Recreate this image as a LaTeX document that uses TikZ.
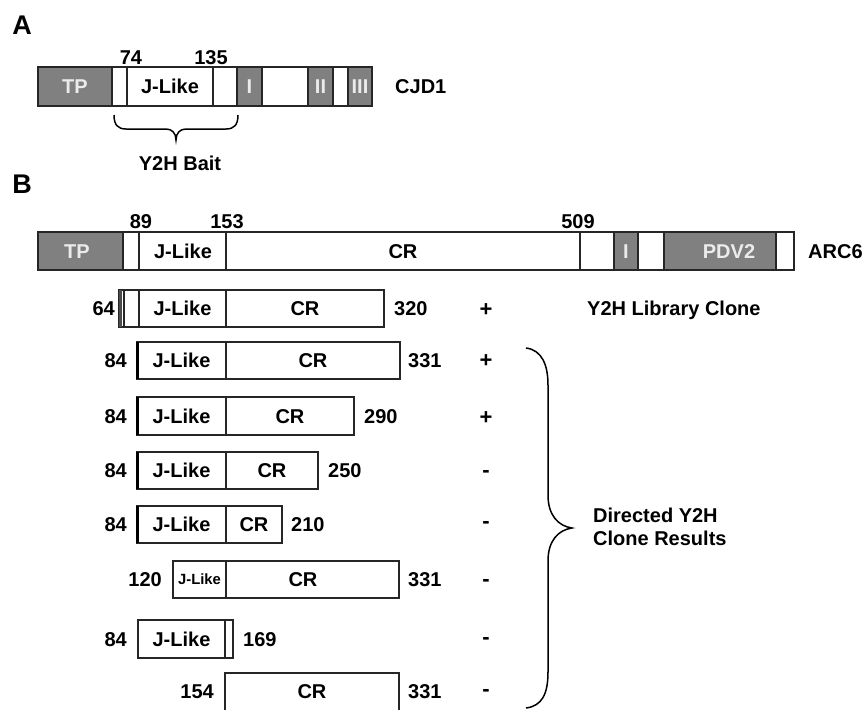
\documentclass[tikz,border=0pt]{standalone}
\usepackage{fontspec}
\setmainfont{Liberation Sans}
\begin{document}
\begin{tikzpicture}[x=1pt,y=-1pt,
  lab/.style={font=\fontsize{20}{22}\selectfont\bfseries, inner sep=0pt, text height=14.3pt, text depth=0pt},
  wlab/.style={lab, text=black!8},
  small/.style={font=\fontsize{14.8}{16}\selectfont\bfseries, inner sep=0pt, text height=10.6pt, text depth=0pt},
  big/.style={font=\fontsize{27}{29}\selectfont\bfseries, inner sep=0pt, text height=19.4pt, text depth=0pt},
  sgn/.style={font=\fontsize{22}{24}\selectfont\bfseries, inner sep=0pt},
  box/.style={draw=black!85, line width=1.1pt, fill=white},
  gbox/.style={draw=black!85, line width=1.1pt, fill=black!50},
  ln/.style={draw=black!85, line width=1.1pt},
  thick edge/.style={draw=black, line width=2.4pt},
  bracepath/.style={draw=black, line width=1.5pt}]
\useasboundingbox (0,0) rectangle (863,710);

% ---------- Panel A ----------
\node[big] (A) at (22,25) {A};
\draw[gbox] (38,67) rectangle (112,106);
\draw[box] (112,67) rectangle (127,106);
\draw[box] (127,67) rectangle (213,106);
\draw[box] (213,67) rectangle (237,106);
\draw[gbox] (237,67) rectangle (262,106);
\draw[box] (262,67) rectangle (308,106);
\draw[gbox] (308,67) rectangle (333,106);
\draw[box] (333,67) rectangle (348,106);
\draw[gbox] (348,67) rectangle (372,106);
\node[wlab] (aTP) at (75,86.5) {TP};
\node[lab] (aJ) at (170,86.5) {J-Like};
\node[wlab] (aI) at (249.5,86.5) {I};
\node[wlab] (aII) at (320.5,86.5) {II};
\node[wlab] (aIII) at (360,86.5) {III};
\node[lab] (a74) at (131,57) {74};
\node[lab] (a135) at (211,57) {135};
\node[lab, anchor=west] (cjd) at (395,86.5) {CJD1};
\draw[bracepath] (114,115) .. controls (114,125) and (118,129) .. (126,129) -- (166,129)
  .. controls (172,129) and (176,133) .. (176,140)
  .. controls (176,133) and (180,129) .. (186,129) -- (226,129)
  .. controls (234,129) and (238,125) .. (238,115);
\node[lab] (bait) at (180,163) {Y2H Bait};

% ---------- Panel B ----------
\node[big] (B) at (22,183.5) {B};
\draw[gbox] (38,232) rectangle (123,270);
\draw[box] (123,232) rectangle (139,270);
\draw[box] (139,232) rectangle (226,270);
\draw[box] (226,232) rectangle (580,270);
\draw[box] (580,232) rectangle (614,270);
\draw[gbox] (614,232) rectangle (638,270);
\draw[box] (638,232) rectangle (664,270);
\draw[gbox] (664,232) rectangle (776,270);
\draw[box] (776,232) rectangle (794,270);
\node[wlab] (bTP) at (77,251) {TP};
\node[lab] (bJ) at (183,251) {J-Like};
\node[lab] (bCR) at (403,251) {CR};
\node[wlab] (bI) at (626,251) {I};
\node[wlab] (bPDV) at (729,251) {PDV2};
\node[lab] (b89) at (141,221) {89};
\node[lab] (b153) at (227,221) {153};
\node[lab] (b509) at (578,221) {509};
\node[lab, anchor=west] (arc) at (808,251) {ARC6};

% row 1: library clone
\draw[box] (119,290) rectangle (384,327);
\draw[draw=black!70, line width=2.2pt] (120.5,290) -- (120.5,327);
\draw[ln] (124,290) -- (124,327);
\draw[ln] (139,290) -- (139,327);
\draw[ln] (226,290) -- (226,327);
\node[lab] (r1J) at (182.5,308.5) {J-Like};
\node[lab] (r1C) at (305,308.5) {CR};
\node[lab, anchor=east] (r1l) at (115,308.5) {64};
\node[lab, anchor=west] (r1r) at (394,308.5) {320};
\node[sgn] (s1) at (486,310) {+};
\node[lab, anchor=west] (lib) at (587,308.5) {Y2H Library Clone};

% row 2
\draw[box] (137,342) rectangle (400,379);
\draw[ln] (226,342) -- (226,379);
\draw[thick edge] (137.5,342) -- (137.5,379);
\node[lab] (r2J) at (181.5,360.5) {J-Like};
\node[lab] (r2C) at (313,360.5) {CR};
\node[lab, anchor=east] (r2l) at (127,360.5) {84};
\node[lab, anchor=west] (r2r) at (408,360.5) {331};
\node[sgn] (s2) at (486,361) {+};

% row 3
\draw[box] (137,397) rectangle (354,435);
\draw[ln] (226,397) -- (226,435);
\draw[thick edge] (137.5,397) -- (137.5,435);
\node[lab] (r3J) at (181.5,416) {J-Like};
\node[lab] (r3C) at (290,416) {CR};
\node[lab, anchor=east] (r3l) at (127,416) {84};
\node[lab, anchor=west] (r3r) at (364,416) {290};
\node[sgn] (s3) at (486,418) {+};

% row 4
\draw[box] (137,452) rectangle (318,489);
\draw[ln] (226,452) -- (226,489);
\draw[thick edge] (137.5,452) -- (137.5,489);
\node[lab] (r4J) at (181.5,470.5) {J-Like};
\node[lab] (r4C) at (272,470.5) {CR};
\node[lab, anchor=east] (r4l) at (127,470.5) {84};
\node[lab, anchor=west] (r4r) at (328,470.5) {250};
\node[sgn] (s4) at (486,474) {-};

% row 5
\draw[box] (137,506) rectangle (282,543);
\draw[ln] (226,506) -- (226,543);
\draw[thick edge] (137.5,506) -- (137.5,543);
\node[lab] (r5J) at (181.5,524.5) {J-Like};
\node[lab] (r5C) at (254,524.5) {CR};
\node[lab, anchor=east] (r5l) at (127,524.5) {84};
\node[lab, anchor=west] (r5r) at (291,524.5) {210};
\node[sgn] (s5) at (486,525) {-};

% row 6
\draw[box] (173,561) rectangle (399,598);
\draw[ln] (226,561) -- (226,598);
\node[small] (r6J) at (199.5,579.5) {J-Like};
\node[lab] (r6C) at (303,579.5) {CR};
\node[lab, anchor=east] (r6l) at (162,579.5) {120};
\node[lab, anchor=west] (r6r) at (408,579.5) {331};
\node[sgn] (s6) at (486,583) {-};

% row 7
\draw[box] (138,620) rectangle (233,658);
\draw[ln] (225,620) -- (225,658);
\node[lab] (r7J) at (181.5,639) {J-Like};
\node[lab, anchor=east] (r7l) at (127,639) {84};
\node[lab, anchor=west] (r7r) at (243,639) {169};
\node[sgn] (s7) at (486,641) {-};

% row 8
\draw[box] (225,673) rectangle (399,710.5);
\node[lab] (r8C) at (312,691.5) {CR};
\node[lab, anchor=east] (r8l) at (214,691.5) {154};
\node[lab, anchor=west] (r8r) at (408,691.5) {331};
\node[sgn] (s8) at (486,693) {-};

% brace B
\draw[bracepath] (526,348) .. controls (542,350) and (548,365) .. (548,385) -- (548,495)
  .. controls (548,515) and (558,526) .. (572,528)
  .. controls (558,530) and (548,541) .. (548,561) -- (548,672)
  .. controls (548,694) and (542,706) .. (526,708);
\node[lab, anchor=west] (dir1) at (593,515) {Directed Y2H};
\node[lab, anchor=west] (dir2) at (593,538) {Clone Results};
\end{tikzpicture}
\end{document}
